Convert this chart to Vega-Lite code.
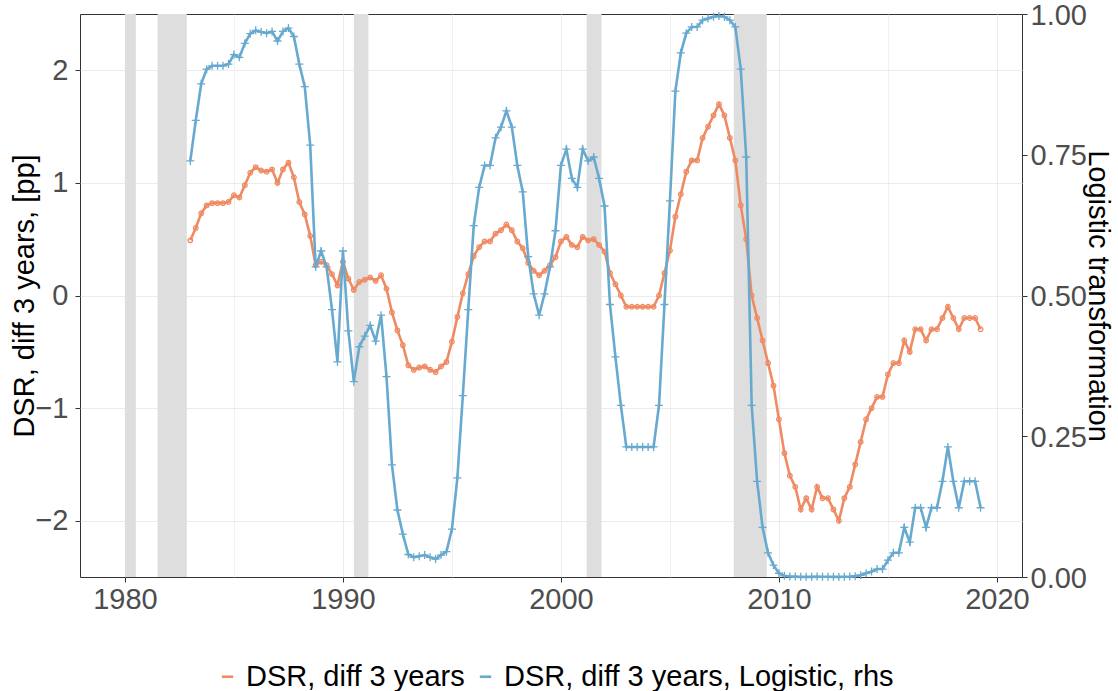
{
  "$schema": "https://vega.github.io/schema/vega-lite/v6.json",
  "width": 942,
  "height": 563,
  "autosize": {"type": "none"},
  "padding": {"left": 80, "top": 14, "right": 96, "bottom": 114},
  "background": "white",
  "config": {
    "font": "Liberation Sans",
    "view": {"stroke": "#333333", "strokeWidth": 1},
    "axis": {
      "labelFont": "Liberation Sans",
      "titleFont": "Liberation Sans",
      "labelFontSize": 29,
      "titleFontSize": 29,
      "labelColor": "#4D4D4D",
      "titleColor": "#000000",
      "titleFontWeight": "normal",
      "domain": false,
      "tickSize": 5,
      "tickWidth": 1,
      "gridColor": "#EBEBEB"
    },
    "legend": {
      "labelFont": "Liberation Sans",
      "labelFontSize": 29,
      "labelColor": "#000000",
      "labelLimit": 0
    }
  },
  "datasets": {
    "rec": [
      {"s": 1980.0, "e": 1980.5},
      {"s": 1981.5, "e": 1982.84},
      {"s": 1990.5, "e": 1991.17},
      {"s": 2001.18, "e": 2001.86},
      {"s": 2007.93, "e": 2009.44}
    ],
    "dsr": [
      {"t": 1983, "v": 0.49}, {"t": 1983.25, "v": 0.60}, {"t": 1983.5, "v": 0.73}, {"t": 1983.75, "v": 0.80},
      {"t": 1984, "v": 0.82}, {"t": 1984.25, "v": 0.82}, {"t": 1984.5, "v": 0.82}, {"t": 1984.75, "v": 0.83},
      {"t": 1985, "v": 0.89}, {"t": 1985.25, "v": 0.87}, {"t": 1985.5, "v": 0.98}, {"t": 1985.75, "v": 1.09},
      {"t": 1986, "v": 1.14}, {"t": 1986.25, "v": 1.11}, {"t": 1986.5, "v": 1.10}, {"t": 1986.75, "v": 1.12},
      {"t": 1987, "v": 1.00}, {"t": 1987.25, "v": 1.12}, {"t": 1987.5, "v": 1.18}, {"t": 1987.75, "v": 1.05},
      {"t": 1988, "v": 0.83}, {"t": 1988.25, "v": 0.72}, {"t": 1988.5, "v": 0.53}, {"t": 1988.75, "v": 0.27},
      {"t": 1989, "v": 0.30}, {"t": 1989.25, "v": 0.27}, {"t": 1989.5, "v": 0.19}, {"t": 1989.75, "v": 0.09},
      {"t": 1990, "v": 0.30}, {"t": 1990.25, "v": 0.15}, {"t": 1990.5, "v": 0.05}, {"t": 1990.75, "v": 0.12},
      {"t": 1991, "v": 0.14}, {"t": 1991.25, "v": 0.16}, {"t": 1991.5, "v": 0.13}, {"t": 1991.75, "v": 0.18},
      {"t": 1992, "v": 0.06}, {"t": 1992.25, "v": -0.15}, {"t": 1992.5, "v": -0.31}, {"t": 1992.75, "v": -0.44},
      {"t": 1993, "v": -0.62}, {"t": 1993.25, "v": -0.66}, {"t": 1993.5, "v": -0.64}, {"t": 1993.75, "v": -0.63},
      {"t": 1994, "v": -0.66}, {"t": 1994.25, "v": -0.68}, {"t": 1994.5, "v": -0.63}, {"t": 1994.75, "v": -0.59},
      {"t": 1995, "v": -0.41}, {"t": 1995.25, "v": -0.19}, {"t": 1995.5, "v": 0.02}, {"t": 1995.75, "v": 0.19},
      {"t": 1996, "v": 0.35}, {"t": 1996.25, "v": 0.43}, {"t": 1996.5, "v": 0.48}, {"t": 1996.75, "v": 0.48},
      {"t": 1997, "v": 0.55}, {"t": 1997.25, "v": 0.58}, {"t": 1997.5, "v": 0.63}, {"t": 1997.75, "v": 0.58},
      {"t": 1998, "v": 0.48}, {"t": 1998.25, "v": 0.42}, {"t": 1998.5, "v": 0.29}, {"t": 1998.75, "v": 0.22},
      {"t": 1999, "v": 0.18}, {"t": 1999.25, "v": 0.22}, {"t": 1999.5, "v": 0.27}, {"t": 1999.75, "v": 0.34},
      {"t": 2000, "v": 0.48}, {"t": 2000.25, "v": 0.52}, {"t": 2000.5, "v": 0.45}, {"t": 2000.75, "v": 0.43},
      {"t": 2001, "v": 0.52}, {"t": 2001.25, "v": 0.49}, {"t": 2001.5, "v": 0.50}, {"t": 2001.75, "v": 0.45},
      {"t": 2002, "v": 0.39}, {"t": 2002.25, "v": 0.20}, {"t": 2002.5, "v": 0.10}, {"t": 2002.75, "v": 0.00},
      {"t": 2003, "v": -0.10}, {"t": 2003.25, "v": -0.10}, {"t": 2003.5, "v": -0.10}, {"t": 2003.75, "v": -0.10},
      {"t": 2004, "v": -0.10}, {"t": 2004.25, "v": -0.10}, {"t": 2004.5, "v": 0.00}, {"t": 2004.75, "v": 0.20},
      {"t": 2005, "v": 0.40}, {"t": 2005.25, "v": 0.70}, {"t": 2005.5, "v": 0.90}, {"t": 2005.75, "v": 1.10},
      {"t": 2006, "v": 1.20}, {"t": 2006.25, "v": 1.20}, {"t": 2006.5, "v": 1.40}, {"t": 2006.75, "v": 1.50},
      {"t": 2007, "v": 1.60}, {"t": 2007.25, "v": 1.70}, {"t": 2007.5, "v": 1.60}, {"t": 2007.75, "v": 1.40},
      {"t": 2008, "v": 1.20}, {"t": 2008.25, "v": 0.80}, {"t": 2008.5, "v": 0.50}, {"t": 2008.75, "v": 0.00},
      {"t": 2009, "v": -0.20}, {"t": 2009.25, "v": -0.40}, {"t": 2009.5, "v": -0.60}, {"t": 2009.75, "v": -0.80},
      {"t": 2010, "v": -1.10}, {"t": 2010.25, "v": -1.40}, {"t": 2010.5, "v": -1.60}, {"t": 2010.75, "v": -1.70},
      {"t": 2011, "v": -1.90}, {"t": 2011.25, "v": -1.80}, {"t": 2011.5, "v": -1.90}, {"t": 2011.75, "v": -1.70},
      {"t": 2012, "v": -1.80}, {"t": 2012.25, "v": -1.80}, {"t": 2012.5, "v": -1.90}, {"t": 2012.75, "v": -2.00},
      {"t": 2013, "v": -1.80}, {"t": 2013.25, "v": -1.70}, {"t": 2013.5, "v": -1.50}, {"t": 2013.75, "v": -1.30},
      {"t": 2014, "v": -1.10}, {"t": 2014.25, "v": -1.00}, {"t": 2014.5, "v": -0.90}, {"t": 2014.75, "v": -0.90},
      {"t": 2015, "v": -0.70}, {"t": 2015.25, "v": -0.60}, {"t": 2015.5, "v": -0.60}, {"t": 2015.75, "v": -0.40},
      {"t": 2016, "v": -0.50}, {"t": 2016.25, "v": -0.30}, {"t": 2016.5, "v": -0.30}, {"t": 2016.75, "v": -0.40},
      {"t": 2017, "v": -0.30}, {"t": 2017.25, "v": -0.30}, {"t": 2017.5, "v": -0.20}, {"t": 2017.75, "v": -0.10},
      {"t": 2018, "v": -0.20}, {"t": 2018.25, "v": -0.30}, {"t": 2018.5, "v": -0.20}, {"t": 2018.75, "v": -0.20},
      {"t": 2019, "v": -0.20}, {"t": 2019.25, "v": -0.30}
    ],
    "logit": [
      {"t": 1983, "r": 0.739}, {"t": 1983.25, "r": 0.811}, {"t": 1983.5, "r": 0.876}, {"t": 1983.75, "r": 0.902},
      {"t": 1984, "r": 0.908}, {"t": 1984.25, "r": 0.908}, {"t": 1984.5, "r": 0.908}, {"t": 1984.75, "r": 0.911},
      {"t": 1985, "r": 0.928}, {"t": 1985.25, "r": 0.923}, {"t": 1985.5, "r": 0.948}, {"t": 1985.75, "r": 0.965},
      {"t": 1986, "r": 0.971}, {"t": 1986.25, "r": 0.968}, {"t": 1986.5, "r": 0.966}, {"t": 1986.75, "r": 0.969},
      {"t": 1987, "r": 0.952}, {"t": 1987.25, "r": 0.969}, {"t": 1987.5, "r": 0.975}, {"t": 1987.75, "r": 0.960},
      {"t": 1988, "r": 0.911}, {"t": 1988.25, "r": 0.871}, {"t": 1988.5, "r": 0.767}, {"t": 1988.75, "r": 0.551},
      {"t": 1989, "r": 0.579}, {"t": 1989.25, "r": 0.551}, {"t": 1989.5, "r": 0.475}, {"t": 1989.75, "r": 0.382},
      {"t": 1990, "r": 0.579}, {"t": 1990.25, "r": 0.437}, {"t": 1990.5, "r": 0.347}, {"t": 1990.75, "r": 0.409},
      {"t": 1991, "r": 0.428}, {"t": 1991.25, "r": 0.447}, {"t": 1991.5, "r": 0.419}, {"t": 1991.75, "r": 0.465},
      {"t": 1992, "r": 0.356}, {"t": 1992.25, "r": 0.199}, {"t": 1992.5, "r": 0.119}, {"t": 1992.75, "r": 0.076},
      {"t": 1993, "r": 0.040}, {"t": 1993.25, "r": 0.035}, {"t": 1993.5, "r": 0.037}, {"t": 1993.75, "r": 0.039},
      {"t": 1994, "r": 0.035}, {"t": 1994.25, "r": 0.032}, {"t": 1994.5, "r": 0.039}, {"t": 1994.75, "r": 0.045},
      {"t": 1995, "r": 0.085}, {"t": 1995.25, "r": 0.176}, {"t": 1995.5, "r": 0.322}, {"t": 1995.75, "r": 0.475},
      {"t": 1996, "r": 0.624}, {"t": 1996.25, "r": 0.692}, {"t": 1996.5, "r": 0.731}, {"t": 1996.75, "r": 0.731},
      {"t": 1997, "r": 0.780}, {"t": 1997.25, "r": 0.799}, {"t": 1997.5, "r": 0.828}, {"t": 1997.75, "r": 0.799},
      {"t": 1998, "r": 0.731}, {"t": 1998.25, "r": 0.684}, {"t": 1998.5, "r": 0.569}, {"t": 1998.75, "r": 0.503},
      {"t": 1999, "r": 0.465}, {"t": 1999.25, "r": 0.503}, {"t": 1999.5, "r": 0.551}, {"t": 1999.75, "r": 0.615},
      {"t": 2000, "r": 0.731}, {"t": 2000.25, "r": 0.760}, {"t": 2000.5, "r": 0.708}, {"t": 2000.75, "r": 0.692},
      {"t": 2001, "r": 0.760}, {"t": 2001.25, "r": 0.739}, {"t": 2001.5, "r": 0.746}, {"t": 2001.75, "r": 0.708},
      {"t": 2002, "r": 0.659}, {"t": 2002.25, "r": 0.484}, {"t": 2002.5, "r": 0.391}, {"t": 2002.75, "r": 0.305},
      {"t": 2003, "r": 0.231}, {"t": 2003.25, "r": 0.231}, {"t": 2003.5, "r": 0.231}, {"t": 2003.75, "r": 0.231},
      {"t": 2004, "r": 0.231}, {"t": 2004.25, "r": 0.231}, {"t": 2004.5, "r": 0.305}, {"t": 2004.75, "r": 0.484},
      {"t": 2005, "r": 0.668}, {"t": 2005.25, "r": 0.863}, {"t": 2005.5, "r": 0.931}, {"t": 2005.75, "r": 0.966},
      {"t": 2006, "r": 0.977}, {"t": 2006.25, "r": 0.977}, {"t": 2006.5, "r": 0.989}, {"t": 2006.75, "r": 0.992},
      {"t": 2007, "r": 0.995}, {"t": 2007.25, "r": 0.9965}, {"t": 2007.5, "r": 0.995}, {"t": 2007.75, "r": 0.989},
      {"t": 2008, "r": 0.977}, {"t": 2008.25, "r": 0.902}, {"t": 2008.5, "r": 0.746}, {"t": 2008.75, "r": 0.305},
      {"t": 2009, "r": 0.170}, {"t": 2009.25, "r": 0.088}, {"t": 2009.5, "r": 0.043}, {"t": 2009.75, "r": 0.021},
      {"t": 2010, "r": 0.0067}, {"t": 2010.25, "r": 0.0021}, {"t": 2010.5, "r": 0.0010}, {"t": 2010.75, "r": 0.0007},
      {"t": 2011, "r": 0.0003}, {"t": 2011.25, "r": 0.0005}, {"t": 2011.5, "r": 0.0003}, {"t": 2011.75, "r": 0.0007},
      {"t": 2012, "r": 0.0005}, {"t": 2012.25, "r": 0.0005}, {"t": 2012.5, "r": 0.0003}, {"t": 2012.75, "r": 0.0002},
      {"t": 2013, "r": 0.0005}, {"t": 2013.25, "r": 0.0007}, {"t": 2013.5, "r": 0.0015}, {"t": 2013.75, "r": 0.0031},
      {"t": 2014, "r": 0.0067}, {"t": 2014.25, "r": 0.0097}, {"t": 2014.5, "r": 0.0141}, {"t": 2014.75, "r": 0.0141},
      {"t": 2015, "r": 0.0298}, {"t": 2015.25, "r": 0.043}, {"t": 2015.5, "r": 0.043}, {"t": 2015.75, "r": 0.088},
      {"t": 2016, "r": 0.062}, {"t": 2016.25, "r": 0.123}, {"t": 2016.5, "r": 0.123}, {"t": 2016.75, "r": 0.088},
      {"t": 2017, "r": 0.123}, {"t": 2017.25, "r": 0.123}, {"t": 2017.5, "r": 0.170}, {"t": 2017.75, "r": 0.231},
      {"t": 2018, "r": 0.170}, {"t": 2018.25, "r": 0.123}, {"t": 2018.5, "r": 0.170}, {"t": 2018.75, "r": 0.170},
      {"t": 2019, "r": 0.170}, {"t": 2019.25, "r": 0.123}
    ]
  },
  "layer": [
    {
      "layer": [
        {
          "data": {"name": "rec"},
          "mark": {"type": "rect", "color": "#DEDEDE"},
          "encoding": {
            "x": {
              "field": "s",
              "type": "quantitative",
              "scale": {"domain": [1977.94, 2021.15], "nice": false, "zero": false},
              "axis": {
                "title": null,
                "values": [1980, 1985, 1990, 1995, 2000, 2005, 2010, 2015, 2020],
                "format": "d",
                "labelExpr": "datum.value % 10 === 0 ? datum.label : ''",
                "labelFlush": false,
                "labelOverlap": false,
                "labelPadding": 3,
                "tickColor": {"condition": {"test": "datum.value % 10 === 0", "value": "#333333"}, "value": "rgba(0,0,0,0)"},
                "gridWidth": {"condition": {"test": "datum.value % 10 === 0", "value": 1}, "value": 0.7}
              }
            },
            "x2": {"field": "e"}
          }
        },
        {
          "data": {"name": "dsr"},
          "mark": {"type": "line", "strokeWidth": 2.6},
          "encoding": {
            "x": {"field": "t", "type": "quantitative"},
            "y": {
              "field": "v",
              "type": "quantitative",
              "scale": {"domain": [-2.5, 2.5], "nice": false, "zero": false},
              "axis": {
                "title": "DSR, diff 3 years, [pp]",
                "values": [-2, -1.5, -1, -0.5, 0, 0.5, 1, 1.5, 2],
                "format": "d",
                "labelExpr": "datum.value % 1 === 0 ? datum.label : ''",
                "labelPadding": 7,
                "tickColor": {"condition": {"test": "datum.value % 1 === 0", "value": "#333333"}, "value": "rgba(0,0,0,0)"},
                "gridWidth": {"condition": {"test": "datum.value % 1 === 0", "value": 1}, "value": 0.7},
                "titleAngle": -90,
                "titleX": -56,
                "titleY": 281.5,
                "titleAlign": "center",
                "titleBaseline": "middle"
              }
            },
            "color": {
              "datum": "DSR, diff 3 years",
              "type": "nominal",
              "scale": {
                "domain": ["DSR, diff 3 years", "DSR, diff 3 years, Logistic, rhs"],
                "range": ["#EF8A62", "#67A9CF"]
              },
              "legend": {
                "title": null,
                "orient": "none",
                "legendX": 133,
                "legendY": 648,
                "direction": "horizontal",
                "symbolType": "stroke",
                "symbolSize": 130,
                "symbolStrokeWidth": 2.6,
                "labelOffset": 4,
                "labelLimit": 0,
                "columnPadding": 6
              }
            }
          }
        },
        {
          "data": {"name": "dsr"},
          "mark": {"type": "point", "shape": "circle", "filled": false, "size": 22, "strokeWidth": 1.2, "opacity": 1},
          "encoding": {
            "x": {"field": "t", "type": "quantitative"},
            "y": {"field": "v", "type": "quantitative"},
            "color": {"datum": "DSR, diff 3 years", "type": "nominal"}
          }
        }
      ]
    },
    {
      "layer": [
        {
          "data": {"name": "logit"},
          "mark": {"type": "line", "strokeWidth": 2.6},
          "encoding": {
            "x": {"field": "t", "type": "quantitative"},
            "y": {
              "field": "r",
              "type": "quantitative",
              "scale": {"domain": [0, 1], "nice": false, "zero": false},
              "axis": {
                "orient": "right",
                "title": "Logistic transformation",
                "values": [0, 0.25, 0.5, 0.75, 1],
                "format": ".2f",
                "grid": false,
                "tickColor": "#333333",
                "labelPadding": 3,
                "labelOffset": 1,
                "titleAngle": 90,
                "titleX": 75,
                "titleY": 281.5,
                "titleAlign": "center",
                "titleBaseline": "middle"
              }
            },
            "color": {"datum": "DSR, diff 3 years, Logistic, rhs", "type": "nominal"}
          }
        },
        {
          "data": {"name": "logit"},
          "mark": {"type": "point", "shape": "M-1,0L1,0M0,-1L0,1", "filled": false, "size": 64, "strokeWidth": 1.3, "opacity": 1},
          "encoding": {
            "x": {"field": "t", "type": "quantitative"},
            "y": {"field": "r", "type": "quantitative"},
            "color": {"datum": "DSR, diff 3 years, Logistic, rhs", "type": "nominal"}
          }
        }
      ]
    }
  ],
  "resolve": {"scale": {"y": "independent"}}
}
